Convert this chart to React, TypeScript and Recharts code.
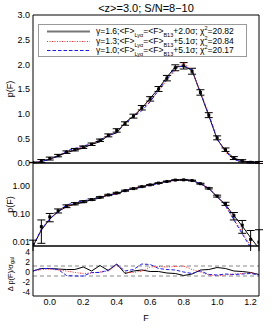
import React from "react";
import { ComposedChart, Line, XAxis, YAxis, ErrorBar, ReferenceLine } from "recharts";

// flux bins and measured PDF
const F = [-0.1, -0.05, 0.0, 0.05, 0.1, 0.15, 0.2, 0.25, 0.3, 0.35, 0.4, 0.45, 0.5, 0.55, 0.6, 0.65, 0.7, 0.75, 0.8, 0.85, 0.9, 0.95, 1.0, 1.05, 1.1, 1.15, 1.2, 1.25];
const pData = [0.009, 0.04, 0.09, 0.15, 0.22, 0.27, 0.32, 0.38, 0.46, 0.56, 0.66, 0.8, 0.95, 1.12, 1.3, 1.5, 1.72, 1.93, 1.97, 1.86, 1.43, 0.97, 0.51, 0.27, 0.1, 0.045, 0.014, 0.011];
const pErr = [0.004, 0.03, 0.03, 0.025, 0.025, 0.025, 0.025, 0.025, 0.025, 0.03, 0.035, 0.035, 0.04, 0.045, 0.045, 0.05, 0.055, 0.06, 0.065, 0.06, 0.055, 0.05, 0.04, 0.035, 0.03, 0.022, 0.015, 0.02];

// model PDFs
const pG16 = [0.008, 0.03, 0.075, 0.14, 0.21, 0.26, 0.3, 0.38, 0.43, 0.56, 0.61, 0.82, 0.95, 1.11, 1.31, 1.51, 1.74, 1.95, 1.96, 1.88, 1.42, 0.96, 0.48, 0.25, 0.1, 0.042, 0.016, 0.0065];
const pG13 = [0.008, 0.033, 0.078, 0.145, 0.22, 0.28, 0.33, 0.39, 0.47, 0.56, 0.62, 0.81, 0.96, 1.12, 1.26, 1.46, 1.68, 1.88, 2.04, 1.85, 1.44, 0.99, 0.48, 0.22, 0.075, 0.025, 0.008, 0.0025];
const pG10 = [0.008, 0.032, 0.077, 0.14, 0.245, 0.295, 0.345, 0.39, 0.47, 0.55, 0.62, 0.8, 0.94, 1.06, 1.24, 1.48, 1.7, 1.92, 1.98, 1.88, 1.43, 0.98, 0.49, 0.23, 0.07, 0.022, 0.007, 0.0022];

// residuals in units of sigma
const dG16 = [0, 0.5, 0.5, 0.4, 0.3, 0.3, 0.8, 0.0, 1.1, 0.1, 1.4, -0.5, 0.0, 0.2, -0.1, -0.1, -0.4, -0.5, -0.9, -0.6, 0.2, 0.3, 0.7, 0.5, 0.0, -0.1, -0.3, -0.7];
const dG13 = [0, 0.3, 0.4, 0.2, 0.0, -0.3, -0.5, -0.4, -0.2, 0.0, 1.2, -0.3, -0.3, 0.0, 0.8, 0.9, 0.8, 0.9, 1.0, 0.3, -0.2, -0.8, -0.9, -0.8, -0.6, -0.5, -0.4, -0.7];
const dG10 = [0, 0.5, 0.5, 0.3, -0.9, -1.0, -1.0, -0.3, -0.3, 0.2, 1.3, 0.0, 0.3, 1.4, 1.3, 0.5, 0.3, 0.2, -0.2, -0.5, 0.0, -0.7, -0.8, -0.6, -0.7, -0.6, -0.5, -0.8];

const xMajor = [0, 0.2, 0.4, 0.6, 0.8, 1.0, 1.2];
const linMajor = [0, 0.5, 1, 1.5, 2, 2.5, 3];
const logMajor = [0.01, 0.1, 1];
const resMajor = [-4, -2, 0, 2, 4];

const X_DOMAIN: [number, number] = [-0.1, 1.25];
const LIN_DOMAIN: [number, number] = [0, 3];
const LOG_DOMAIN: [number, number] = [0.008, 8];
const RES_DOMAIN: [number, number] = [-5, 5];

const steps = (a: number, b: number, s: number) => {
  const out: number[] = [];
  for (let v = a; v <= b + 1e-9; v += s) out.push(Math.round(v * 1000) / 1000);
  return out;
};
const xMinor = steps(-0.1, 1.25, 0.05);
const linMinor = steps(0, 3, 0.1);
const resMinor = steps(-5, 5, 0.5);
const logMinor = [0.009, 0.02, 0.03, 0.04, 0.05, 0.06, 0.07, 0.08, 0.09, 0.2, 0.3, 0.4, 0.5, 0.6, 0.7, 0.8, 0.9, 2, 3, 4, 5, 6, 7, 8];

const rows = F.map((f, i) => ({
  F: f,
  data: pData[i],
  err: pErr[i],
  errLog: [Math.min(pErr[i], pData[i] * 0.95), pErr[i]],
  g16: pG16[i],
  g13: pG13[i],
  g10: pG10[i],
  d16: dG16[i],
  d13: dG13[i],
  d10: dG10[i],
}));

const FONT = '"Liberation Sans", Arial, sans-serif';
const RED = "#ff2a2a";
const BLUE = "#1a1aff";
const W = 274;
const MARGIN_R = 15;

const tickStyle = { fontSize: 9, fill: "#000", fontFamily: FONT };

function RotLabel(props: any) {
  const { viewBox, text, sub, size = 9, shift = 0 } = props;
  const cx = viewBox.x + 10;
  const cy = viewBox.y + viewBox.height / 2 + shift;
  return (
    <text x={cx} y={cy} transform={`rotate(-90 ${cx} ${cy})`} textAnchor="middle" dominantBaseline="central" fontSize={size} fontFamily={FONT} fill="#000">
      {text}
      {sub ? <tspan fontSize={5.5} dy={2}>{sub}</tspan> : null}
    </text>
  );
}

// box with inward major/minor ticks on all four sides
function frame(yDomain: [number, number], yMajor: number[], yMinor: number[], yScale: any = "linear") {
  const xc = { type: "number" as const, domain: X_DOMAIN, allowDataOverflow: true, tick: false, interval: 0 as const, mirror: true, stroke: "#000" };
  const yc = { type: "number" as const, domain: yDomain, scale: yScale, allowDataOverflow: true, tick: false, interval: 0 as const, mirror: true, stroke: "#000" };
  return [
    <XAxis key="xb1" xAxisId="xb1" orientation="bottom" ticks={xMajor} tickSize={4} {...xc} />,
    <XAxis key="xb2" xAxisId="xb2" orientation="bottom" ticks={xMinor} tickSize={2} axisLine={false} {...xc} />,
    <XAxis key="xt1" xAxisId="xt1" orientation="top" ticks={xMajor} tickSize={4} {...xc} />,
    <XAxis key="xt2" xAxisId="xt2" orientation="top" ticks={xMinor} tickSize={2} axisLine={false} {...xc} />,
    <YAxis key="yl1" yAxisId="yl1" orientation="left" ticks={yMajor} tickSize={4} {...yc} />,
    <YAxis key="yl2" yAxisId="yl2" orientation="left" ticks={yMinor} tickSize={2} axisLine={false} {...yc} />,
    <YAxis key="yr1" yAxisId="yr1" orientation="right" ticks={yMajor} tickSize={4} {...yc} />,
    <YAxis key="yr2" yAxisId="yr2" orientation="right" ticks={yMinor} tickSize={2} axisLine={false} {...yc} />,
  ];
}

const square = (p: any) => (
  <rect key={`d-${p.index}`} x={p.cx - 1.5} y={p.cy - 1.5} width={3} height={3} fill="#000" />
);

function modelLines(k16: string, k13: string, k10: string) {
  return [
    <Line key="l16" xAxisId="m" yAxisId="m" dataKey={k16} stroke="#000" strokeWidth={1} dot={false} isAnimationActive={false} />,
    <Line key="l13" xAxisId="m" yAxisId="m" dataKey={k13} stroke={RED} strokeWidth={1} strokeDasharray="1 1.5" dot={false} isAnimationActive={false} />,
    <Line key="l10" xAxisId="m" yAxisId="m" dataKey={k10} stroke={BLUE} strokeWidth={1} strokeDasharray="3.5 2" dot={false} isAnimationActive={false} />,
  ];
}

const legendRows = [
  { g: "1.6", s: "2.0", chi: "20.82", stroke: "#777", width: 2, dash: undefined },
  { g: "1.3", s: "5.1", chi: "20.84", stroke: RED, width: 1, dash: "1 1.5" },
  { g: "1.0", s: "5.1", chi: "20.17", stroke: BLUE, width: 1, dash: "3.5 2" },
];

export default function App() {
  return (
    <div style={{ position: "absolute", left: 0, top: 0, width: W, height: 328, background: "#fff", fontFamily: FONT, overflow: "hidden" }}>
      <div style={{ position: "absolute", left: 33, width: 226, top: 2, textAlign: "center", fontSize: 11, lineHeight: "13px" }}>
        {"<z>=3.0; S/N=8\u221210"}
      </div>

      {/* linear p(F) */}
      <div style={{ position: "absolute", left: 0, top: 0 }}>
        <ComposedChart width={W} height={168} data={rows} margin={{ top: 15, right: MARGIN_R, bottom: 5, left: 0 }}>
          <XAxis xAxisId="m" type="number" dataKey="F" domain={X_DOMAIN} allowDataOverflow hide />
          <YAxis yAxisId="m" type="number" domain={LIN_DOMAIN} ticks={linMajor} interval={0} allowDataOverflow width={33}
            axisLine={false} tickLine={false} tickSize={0} tickMargin={3} tick={tickStyle}
            tickFormatter={(v: number) => v.toFixed(1)} label={<RotLabel text="p(F)" />} />
          {frame(LIN_DOMAIN, linMajor, linMinor)}
          {modelLines("g16", "g13", "g10")}
          <Line xAxisId="m" yAxisId="m" dataKey="data" stroke="none" dot={square} isAnimationActive={false}>
            <ErrorBar dataKey="err" width={4} stroke="#000" strokeWidth={1} direction="y" />
          </Line>
        </ComposedChart>
      </div>

      {/* log p(F) */}
      <div style={{ position: "absolute", left: 0, top: 158 }}>
        <ComposedChart width={W} height={93} data={rows} margin={{ top: 5, right: MARGIN_R, bottom: 5, left: 0 }}>
          <XAxis xAxisId="m" type="number" dataKey="F" domain={X_DOMAIN} allowDataOverflow hide />
          <YAxis yAxisId="m" type="number" scale="log" domain={LOG_DOMAIN} ticks={logMajor} interval={0} allowDataOverflow width={33}
            axisLine={false} tickLine={false} tickSize={0} tickMargin={3} tick={{ ...tickStyle, dy: -2 }}
            tickFormatter={(v: number) => v.toFixed(2)} label={<RotLabel text="p(F)" />} />
          {frame(LOG_DOMAIN, logMajor, logMinor, "log")}
          {modelLines("g16", "g13", "g10")}
          <Line xAxisId="m" yAxisId="m" dataKey="data" stroke="none" dot={square} isAnimationActive={false}>
            <ErrorBar dataKey="errLog" width={4} stroke="#000" strokeWidth={1} direction="y" />
          </Line>
        </ComposedChart>
      </div>

      {/* residuals */}
      <div style={{ position: "absolute", left: 0, top: 241 }}>
        <ComposedChart width={W} height={87} data={rows} margin={{ top: 5, right: MARGIN_R, bottom: 0, left: 0 }}>
          <XAxis xAxisId="m" type="number" dataKey="F" domain={X_DOMAIN} allowDataOverflow ticks={xMajor} interval={0}
            height={32} axisLine={false} tickLine={false} tickSize={0} tickMargin={3} tick={tickStyle}
            tickFormatter={(v: number) => v.toFixed(1)}
            label={{ value: "F", position: "insideBottom", offset: 7, fontSize: 9, fill: "#000", fontFamily: FONT }} />
          <YAxis yAxisId="m" type="number" domain={RES_DOMAIN} ticks={resMajor} interval={0} allowDataOverflow width={33}
            axisLine={false} tickLine={false} tickSize={0} tickMargin={3} tick={{ ...tickStyle, fontSize: 8.5, dy: 1 }}
            label={<RotLabel text={"\u0394 p(F)/\u03c3"} sub="gal" size={7.5} shift={3} />} />
          {frame(RES_DOMAIN, resMajor, resMinor)}
          <ReferenceLine xAxisId="m" yAxisId="m" y={1} stroke="#888" strokeDasharray="4 3" />
          <ReferenceLine xAxisId="m" yAxisId="m" y={-1} stroke="#888" strokeDasharray="4 3" />
          {modelLines("d16", "d13", "d10")}
        </ComposedChart>
      </div>

      {/* legend */}
      <div style={{ position: "absolute", left: 38, top: 24, width: 209, height: 33, border: "1px solid #999", boxSizing: "border-box", background: "#fff", fontSize: 8.5, paddingTop: 2 }}>
        {legendRows.map((r) => (
          <div key={r.g} style={{ display: "flex", alignItems: "center", height: 9.5, whiteSpace: "nowrap" }}>
            <svg width={52} height={9} style={{ flex: "none" }}>
              <line x1={8} x2={51} y1={4.5} y2={4.5} stroke={r.stroke} strokeWidth={r.width} strokeDasharray={r.dash} />
            </svg>
            <span style={{ marginLeft: 5, lineHeight: "9px" }}>
              {"\u03b3=" + r.g + ";<F>"}
              <sub style={{ fontSize: 5.5 }}>{"Ly\u03b1"}</sub>
              {"=<F>"}
              <sub style={{ fontSize: 5.5 }}>B13</sub>
              {"+" + r.s + "\u03c3; \u03c7"}
              <sup style={{ fontSize: 5.5 }}>2</sup>
              {"=" + r.chi}
            </span>
          </div>
        ))}
      </div>
    </div>
  );
}
